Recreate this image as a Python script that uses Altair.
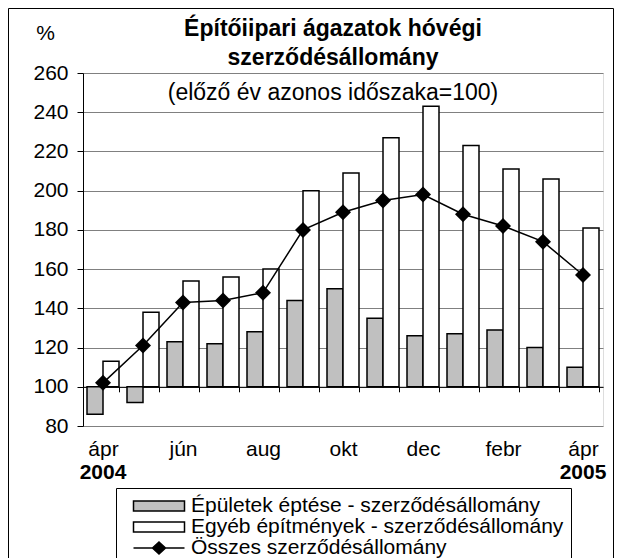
import altair as alt
import pandas as pd

FONT = "Liberation Sans"

months = ["ápr 2004", "máj", "jún", "júl", "aug", "szept", "okt",
          "nov", "dec", "jan", "febr", "márc", "ápr 2005"]
tick_labels = ["ápr", "", "jún", "", "aug", "", "okt", "", "dec", "", "febr", "", "ápr"]
year_months = ["ápr 2004", "ápr 2005"]
years = ["2004", "2005"]
y_ticks = [80, 100, 120, 140, 160, 180, 200, 220, 240, 260]

epuletek = [86, 92, 123, 122, 128, 144, 150, 135, 126, 127, 129, 120, 110]
egyeb = [113, 138, 154, 156, 160, 200, 209, 227, 243, 223, 211, 206, 181]
osszes = [102, 121, 143, 144, 148, 180, 189, 195, 198, 188, 182, 174, 157]

series = ["Épületek éptése - szerződésállomány",
          "Egyéb építmények - szerződésállomány",
          "Összes szerződésállomány"]
colors = ["#c0c0c0", "#ffffff", "#000000"]

bars_df = pd.DataFrame({
    "month": months * 2,
    "series": [series[0]] * len(months) + [series[1]] * len(months),
    "value": epuletek + egyeb,
})
line_df = pd.DataFrame({"month": months, "value": osszes, "series": series[2]})
year_df = pd.DataFrame({"month": year_months, "label": years})
legend_df = pd.DataFrame({"series": series})
frame_df = pd.DataFrame({"a": [0]})

label_expr = "''"
for m, l in reversed(list(zip(months, tick_labels))):
    label_expr = f"datum.value === '{m}' ? '{l}' : {label_expr}"

x_scale = alt.Scale(domain=months, paddingInner=0.2, paddingOuter=0.1)
y_scale = alt.Scale(domain=[80, 260], nice=False, zero=False)
fill_scale = alt.Scale(domain=series, range=colors)

x_axis = alt.Axis(
    title=None, labelExpr=label_expr, labelAngle=0, offset=-39.2,
    tickBand="extent", tickSize=5, tickColor="black", domainColor="black",
    labelPadding=47, labelFontSize=21, labelFont=FONT, labelColor="black",
    grid=False, labelOverlap=False,
)
y_axis = alt.Axis(
    values=y_ticks, tickCount=len(y_ticks), grid=True, gridColor="#808080",
    domainColor="black", tickColor="black", tickSize=6, labelPadding=9,
    labelFontSize=21, labelFont=FONT, labelColor="black", labelOverlap=False,
    title="%", titleAngle=0, titleX=-38, titleY=-40, titleAlign="center",
    titleBaseline="middle", titleFontSize=21, titleFontWeight="normal",
    titleFont=FONT, titleColor="black",
)

frame = alt.Chart(frame_df).mark_rect(
    fill="transparent", stroke="black", strokeWidth=1
).encode(
    x=alt.value(-74.5), x2=alt.value(530.5), y=alt.value(-64.5), y2=alt.value(495)
)

bars = alt.Chart(bars_df).mark_bar(stroke="black", strokeWidth=1.5).encode(
    x=alt.X("month:N", sort=months, scale=x_scale, axis=x_axis),
    xOffset=alt.XOffset("series:N", sort=series[:2],
                        scale=alt.Scale(domain=series[:2], paddingInner=0, paddingOuter=0)),
    y=alt.Y("value:Q", scale=y_scale, axis=y_axis),
    y2=alt.datum(100),
    fill=alt.Fill("series:N", scale=fill_scale, legend=None),
)

line = alt.Chart(line_df).mark_line(color="black", strokeWidth=1.5).encode(
    x=alt.X("month:N", sort=months, scale=x_scale, axis=x_axis),
    y=alt.Y("value:Q", scale=y_scale, axis=y_axis),
)
points = alt.Chart(line_df).mark_point(
    shape="diamond", filled=True, color="black", size=256, opacity=1
).encode(
    x=alt.X("month:N", sort=months, scale=x_scale, axis=x_axis),
    y=alt.Y("value:Q", scale=y_scale, axis=y_axis),
)

year_text = alt.Chart(year_df).mark_text(
    fontSize=21, fontWeight="bold", font=FONT, color="black", baseline="middle"
).encode(
    x=alt.X("month:N", sort=months, scale=x_scale, axis=x_axis),
    y=alt.value(400),
    text="label:N",
)

rect_path = "M-2.55,-0.5H2.55V0.5H-2.55Z"
line_path = "M-2.55,0H2.55M0,-0.6L0.65,0L0,0.6L-0.65,0Z"

leg = alt.Legend(
    title=None, orient="none", legendX=33, legendY=415,
    strokeColor="black", fillColor="white", padding=7,
    labelFontSize=21, labelFont=FONT, labelColor="black", labelLimit=600,
    symbolSize=400, symbolOffset=25, labelOffset=21, rowPadding=-3.5,
    symbolStrokeColor="black", symbolStrokeWidth=1.5,
)

legend_layer = alt.Chart(legend_df).transform_filter("false").mark_point(
    filled=True, strokeWidth=1.5, opacity=1
).encode(
    fill=alt.Fill("series:N", scale=fill_scale, legend=leg),
    stroke=alt.Stroke("series:N",
                      scale=alt.Scale(domain=series, range=["black", "black", "black"]),
                      legend=leg),
    shape=alt.Shape("series:N",
                    scale=alt.Scale(domain=series, range=[rect_path, rect_path, line_path]),
                    legend=leg),
)

chart = alt.layer(frame, bars, line, points, year_text, legend_layer).resolve_legend(
    fill="independent", shape="independent", stroke="independent"
).properties(
    width=520, height=353,
    autosize=alt.AutoSizeParams(type="none"),
    padding={"left": 75, "top": 65, "right": 11, "bottom": 132},
    title=alt.Title(
        text=["Építőiipari ágazatok hóvégi", "szerződésállomány"],
        subtitle="(előző év azonos időszaka=100)",
        font=FONT, fontSize=23, fontWeight="bold", color="black",
        subtitleFont=FONT, subtitleFontSize=23, subtitleFontWeight="normal",
        subtitleColor="black", anchor="middle", offset=-97, subtitlePadding=12,
        lineHeight=29, dx=-10,
    ),
).configure_view(stroke="#808080", strokeWidth=1).configure(background="white")

chart.save("out.html", embed_options={"renderer": "svg", "actions": False})
